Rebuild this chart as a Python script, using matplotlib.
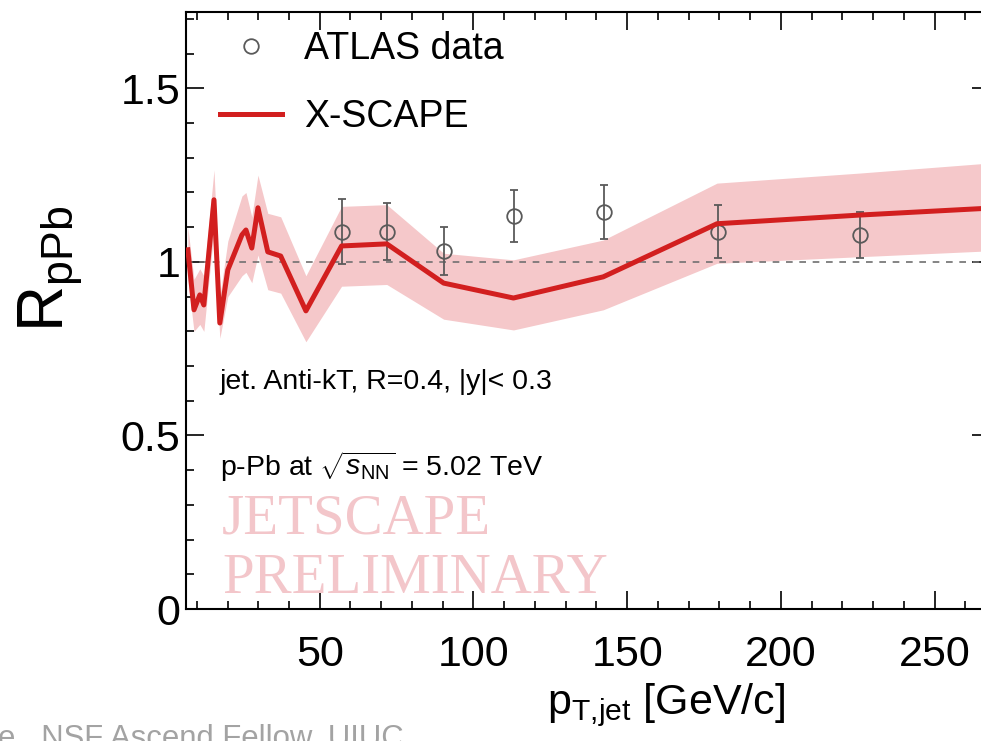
import numpy as np
import matplotlib
matplotlib.use('Agg')
import matplotlib.pyplot as plt
from matplotlib.ticker import MultipleLocator

plt.rcParams['font.family'] = ['Liberation Sans', 'DejaVu Sans']
plt.rcParams['mathtext.fontset'] = 'custom'
plt.rcParams['mathtext.rm'] = 'Liberation Sans'
plt.rcParams['mathtext.it'] = 'Liberation Sans:italic'
plt.rcParams['mathtext.bf'] = 'Liberation Sans:bold'

# ATLAS data points (pT in GeV/c)
atlas_pt = [57.1, 71.8, 90.4, 113.1, 142.6, 179.6, 225.6]
atlas_r = [1.087, 1.087, 1.032, 1.131, 1.145, 1.087, 1.078]
atlas_err = [0.093, 0.082, 0.070, 0.075, 0.078, 0.077, 0.066]

# X-SCAPE curve and its uncertainty band
xs_pt = [7.1, 9.1, 11.0, 12.3, 15.6, 17.5, 20.1, 24.7, 26.0, 27.9, 29.9, 33.1,
         37.3, 45.5, 57.1, 71.8, 90.3, 113.0, 142.2, 179.2, 225.6, 268.0]
xs_r = [1.035, 0.862, 0.905, 0.876, 1.179, 0.824, 0.977, 1.078, 1.092, 1.040, 1.156, 1.029,
        1.017, 0.859, 1.046, 1.052, 0.939, 0.896, 0.957, 1.110, 1.135, 1.155]
xs_hi = [1.10, 0.95, 0.98, 0.96, 1.265, 0.90, 1.06, 1.19, 1.20, 1.13, 1.25, 1.14,
         1.13, 0.96, 1.16, 1.165, 1.025, 1.006, 1.063, 1.227, 1.256, 1.285]
xs_lo = [0.95, 0.80, 0.82, 0.80, 1.09, 0.78, 0.90, 0.96, 0.97, 0.94, 1.02, 0.92,
         0.91, 0.77, 0.93, 0.935, 0.835, 0.804, 0.862, 0.996, 1.015, 1.032]

ytick_vals = [0, 0.5, 1, 1.5]
ytick_text = ['0', '0.5', '1', '1.5']

red = '#d21f1f'
grey = '#5a5a5a'

fig = plt.figure(figsize=(9.81, 7.41), dpi=100)
ax = fig.add_axes([0.1896, 0.1781, 0.8196, 0.8057])

ax.fill_between(xs_pt, xs_lo, xs_hi, color='#f5c8ca', lw=0, zorder=1)
ax.axhline(1, color='#707070', lw=1.2, ls=(0, (4, 4)), zorder=2)
ax.errorbar(atlas_pt, atlas_r, yerr=atlas_err, fmt='none', ecolor=grey,
            elinewidth=1.3, capsize=2.8, capthick=1.3, zorder=3)
ax.plot(atlas_pt, atlas_r, 'o', mfc='none', mec=grey, ms=10.5, mew=1.3,
        zorder=3, label='ATLAS data')
ax.plot(xs_pt, xs_r, color=red, lw=3.6, zorder=4, label='X-SCAPE')

ax.set_xlim(6.5, 268)
ax.set_ylim(0, 1.72)
ax.xaxis.set_major_locator(MultipleLocator(50))
ax.xaxis.set_minor_locator(MultipleLocator(10))
ax.set_yticks(ytick_vals)
ax.set_yticklabels(ytick_text)
ax.yaxis.set_minor_locator(MultipleLocator(0.1))
ax.tick_params(which='both', direction='in', top=True, right=True, width=1.2)
ax.tick_params(which='major', length=13, labelsize=31)
ax.tick_params(axis='x', which='major', pad=19)
ax.tick_params(axis='y', which='major', pad=4)
ax.tick_params(which='minor', length=6)
for s in ax.spines.values():
    s.set_linewidth(1.5)

ax.set_xlabel(r'p$_{\mathrm{T{,}jet}}$ [GeV/c]', fontsize=31)
ax.xaxis.set_label_coords(0.597, -0.122)
ax.set_ylabel(r'R$_{\mathrm{pPb}}$', fontsize=46)
ax.yaxis.set_label_coords(-0.125, 0.57)

ax.legend(loc='upper left', bbox_to_anchor=(0.042, 0.968), frameon=False,
          fontsize=27, handlelength=1.65, handletextpad=0.6, labelspacing=0.85,
          borderpad=0, borderaxespad=0, numpoints=1)

ax.text(0.042, 0.369, 'jet. Anti-kT, R=0.4, |y|< 0.3', transform=ax.transAxes,
        fontsize=20.5, va='baseline')
ax.text(0.042, 0.223, r'p-Pb at $\sqrt{s_{\mathrm{NN}}}$ = 5.02 TeV',
        transform=ax.transAxes, fontsize=20.5, va='baseline')
ax.text(0.045, 0.127, 'JETSCAPE', transform=ax.transAxes, family='Liberation Serif',
        fontsize=41, color='#f3c6ca', va='baseline')
ax.text(0.045, 0.027, 'PRELIMINARY', transform=ax.transAxes, family='Liberation Serif',
        fontsize=41, color='#f3c6ca', va='baseline')

fig.text(-2 / 981, -6 / 741, 'e,  NSF Ascend Fellow, UIUC', fontsize=22.4,
         color='#a3a3a3', va='baseline')

fig.savefig('out.png', dpi=100)
